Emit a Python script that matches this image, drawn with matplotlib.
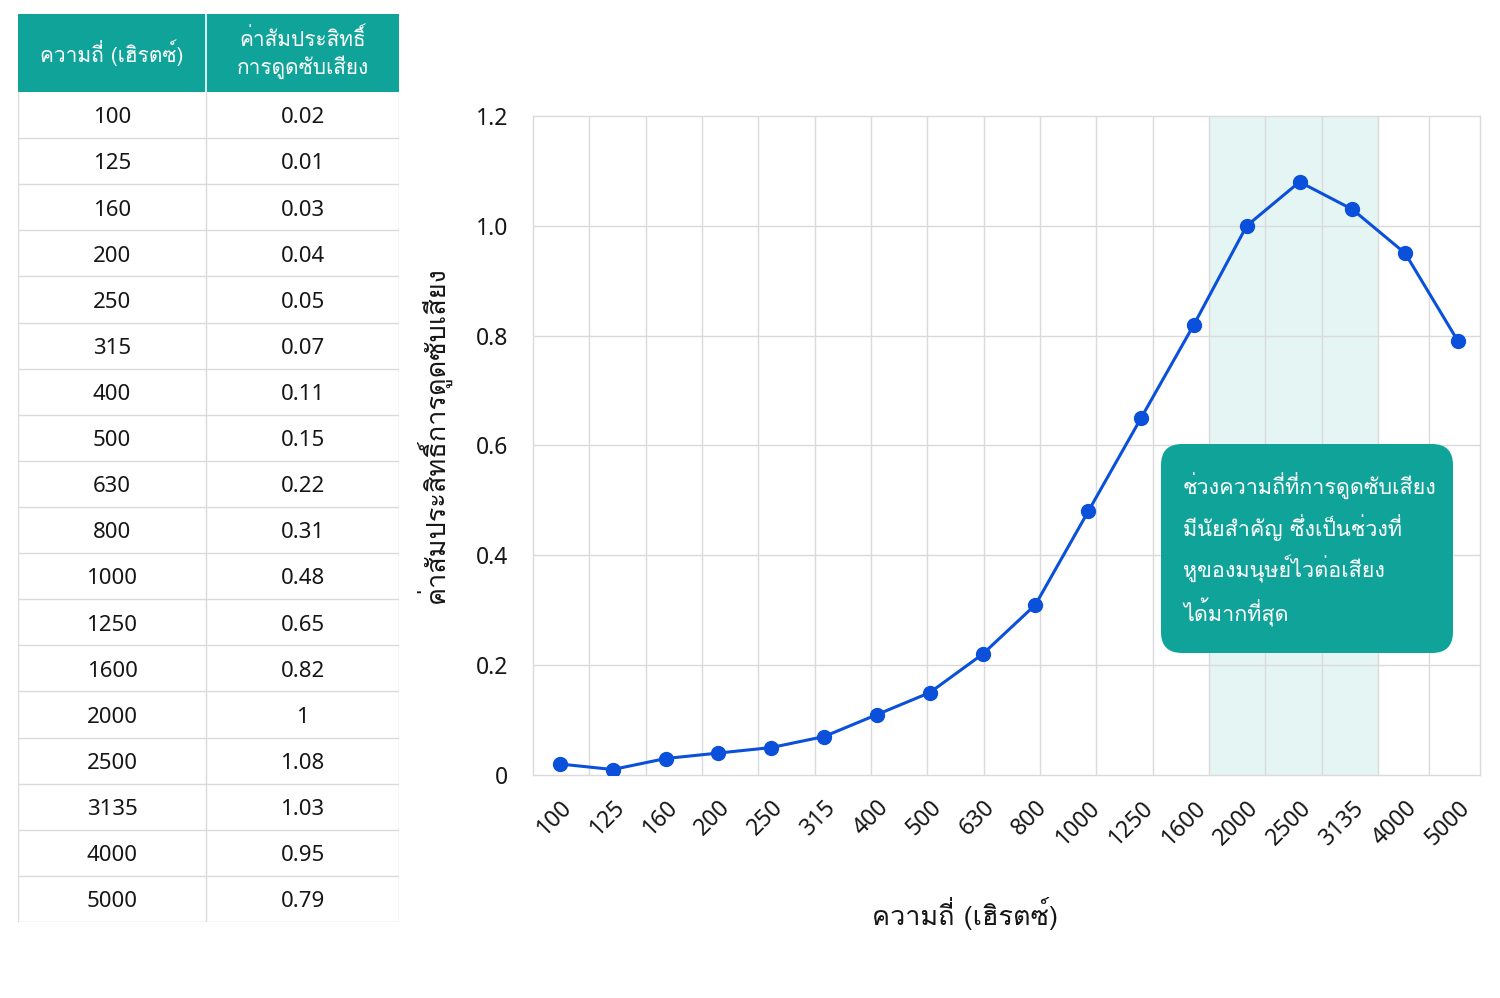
import matplotlib
matplotlib.use("Agg")
import matplotlib.pyplot as plt
import numpy as np
from matplotlib.patches import Rectangle, FancyBboxPatch

# digits in Noto; Thai strings in Loma, whose tone marks stack without shaping
plt.rcParams["font.family"] = ["Noto Sans Thai", "DejaVu Sans"]
THAI = ["Loma", "Noto Sans Thai", "DejaVu Sans"]

freq_labels = ["100", "125", "160", "200", "250", "315", "400", "500", "630",
               "800", "1000", "1250", "1600", "2000", "2500", "3135", "4000", "5000"]
absorption = [0.02, 0.01, 0.03, 0.04, 0.05, 0.07, 0.11, 0.15, 0.22,
              0.31, 0.48, 0.65, 0.82, 1, 1.08, 1.03, 0.95, 0.79]
table_values = ["0.02", "0.01", "0.03", "0.04", "0.05", "0.07", "0.11", "0.15", "0.22",
                "0.31", "0.48", "0.65", "0.82", "1", "1.08", "1.03", "0.95", "0.79"]
yticks = [0, 0.2, 0.4, 0.6, 0.8, 1.0, 1.2]
ytick_labels = ["0", "0.2", "0.4", "0.6", "0.8", "1.0", "1.2"]

col_head_freq = "ความถี่ (เฮิรตซ์)"
col_head_abs = "ค่าสัมประสิทธิ์\nการดูดซับเสียง"
xlabel = "ความถี่ (เฮิรตซ์)"
ylabel = "ค่าสัมประสิทธิ์การดูดซับเสียง"
note = ("ช่วงความถี่ที่การดูดซับเสียง\nมีนัยสำคัญ ซึ่งเป็นช่วงที่\n"
        "หูของมนุษย์ไวต่อเสียง\nได้มากที่สุด")

TEAL = "#10A39A"
BLUE = "#0A50DA"
GRID = "#DADADA"
INK = "#161616"
W, H = 1500, 998

fig = plt.figure(figsize=(15, 9.98), dpi=100)

# ---------- table on the left ----------
tab_l, tab_r, tab_t, tab_b = 18, 399, 14, 922
ax_t = fig.add_axes([tab_l / W, 1 - tab_b / H, (tab_r - tab_l) / W, (tab_b - tab_t) / H])
n = len(freq_labels)
row_h = 1.0
head_h = 78 / 46.1
total = head_h + n * row_h
split = (206 - tab_l) / (tab_r - tab_l)
ax_t.set_xlim(0, 1)
ax_t.set_ylim(total, 0)
ax_t.axis("off")

ax_t.add_patch(Rectangle((0, 0), 1, head_h, facecolor=TEAL, edgecolor="none"))
ax_t.plot([split, split], [0, head_h], color="white", lw=1.2)
ax_t.text(split / 2, head_h / 2, col_head_freq, ha="center", va="center",
          color="white", fontsize=15, family=THAI)
ax_t.text((split + 1) / 2, head_h / 2, col_head_abs, ha="center", va="center",
          color="white", fontsize=15, family=THAI, linespacing=1.3)

for i, (f, v) in enumerate(zip(freq_labels, table_values)):
    yc = head_h + (i + 0.56) * row_h
    ax_t.text(split / 2, yc, f, ha="center", va="center", fontsize=16, color=INK)
    ax_t.text((split + 1) / 2, yc, v, ha="center", va="center", fontsize=16, color=INK)
    yb = head_h + (i + 1) * row_h
    ax_t.plot([0, 1], [yb, yb], color=GRID, lw=1.0)
ax_t.plot([split, split], [head_h, total], color=GRID, lw=1.0)
ax_t.plot([0, 0], [head_h, total], color=GRID, lw=1.0)
ax_t.plot([1, 1], [head_h, total], color=GRID, lw=1.0)

# ---------- line chart ----------
ax_l, ax_r, ax_top, ax_bot = 533, 1480, 116, 775
ax = fig.add_axes([ax_l / W, 1 - ax_bot / H, (ax_r - ax_l) / W, (ax_bot - ax_top) / H])
x = np.arange(n)
unit = (1458 - 560) / (n - 1)


def px2x(px):
    return (px - 560) / unit


ax.set_xlim(px2x(ax_l), px2x(ax_r))
ax.set_ylim(0, 1.2)

# highlighted band and column grid (17 columns, as drawn)
ax.axvspan(px2x(1209), px2x(1378), facecolor="#E5F5F3", edgecolor="none", zorder=0)
col_px = list(np.linspace(533, 1378, 16)) + [1429]
for px in col_px[1:]:
    ax.axvline(px2x(px), color=GRID, lw=1.0, zorder=1)
for yv in yticks[1:-1]:
    ax.axhline(yv, color=GRID, lw=1.0, zorder=1)

for s in ax.spines.values():
    s.set_color(GRID)
    s.set_linewidth(1.0)

ax.plot(x, absorption, color=BLUE, lw=2.2, marker="o", markersize=10, zorder=3)

ax.set_yticks(yticks)
ax.set_yticklabels(ytick_labels)
ax.set_xticks(x)
ax.set_xticklabels(freq_labels, rotation=45, ha="right", va="top", rotation_mode="anchor")
ax.tick_params(axis="both", length=0, labelsize=16.5, colors=INK)
ax.tick_params(axis="y", pad=18)
ax.tick_params(axis="x", pad=15)

ax.set_xlabel(xlabel, fontsize=19.5, family=THAI, color=INK, labelpad=30)
ax.set_ylabel(ylabel, fontsize=19.5, family=THAI, color=INK, labelpad=16)
ax.xaxis.set_label_coords(0.456, -0.185)
ax.yaxis.set_label_coords(-0.087, 0.516)

# annotation box
bx0, by0, bx1, by1 = 1161, 444, 1453, 653
box = FancyBboxPatch((bx0 / W, 1 - by1 / H), (bx1 - bx0) / W, (by1 - by0) / H,
                     boxstyle="round,pad=0,rounding_size=0.014",
                     transform=fig.transFigure, facecolor=TEAL, edgecolor="none",
                     mutation_aspect=W / H, zorder=5)
fig.patches.append(box)
fig.text(1183 / W, 1 - 473 / H, note, ha="left", va="top", color="white",
         fontsize=15.5, family=THAI, linespacing=1.63, zorder=6)

fig.savefig("out.png", dpi=100)
